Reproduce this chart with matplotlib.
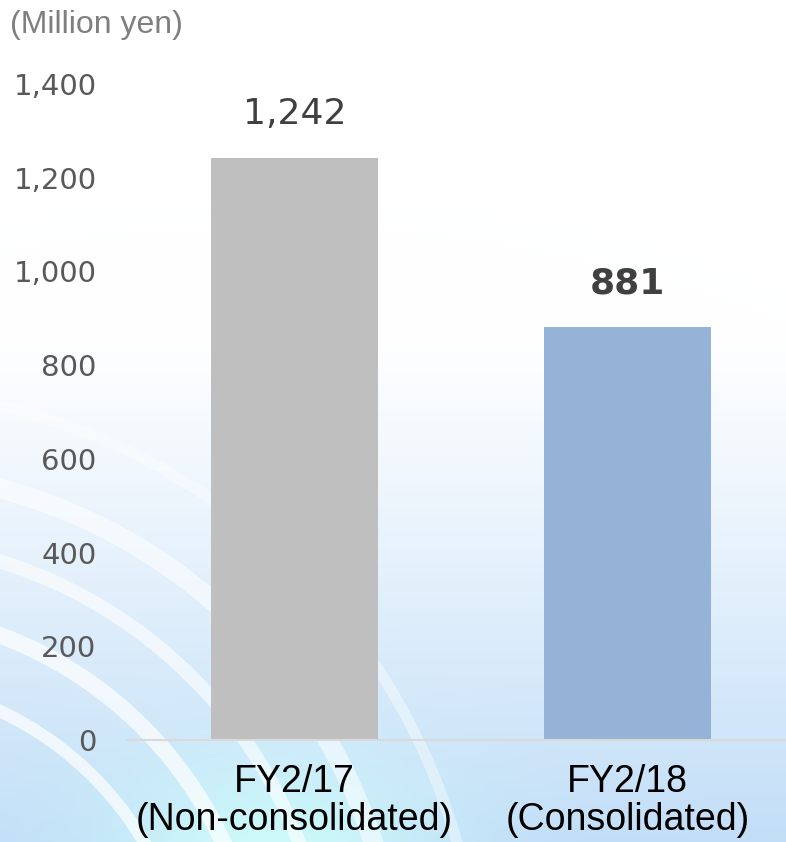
import numpy as np
import matplotlib
matplotlib.use('Agg')
import matplotlib.pyplot as plt
from matplotlib.ticker import FuncFormatter

categories = ['FY2/17\n(Non-consolidated)', 'FY2/18\n(Consolidated)']
values = [1242, 881]
value_labels = ['1,242', '881']
label_bold = [False, True]
bar_colors = ['#bfbfbf', '#95b3d7']
yticks = [0, 200, 400, 600, 800, 1000, 1200, 1400]
unit_label = '(Million yen)'

W, H = 786, 842
fig = plt.figure(figsize=(W/100, H/100), dpi=100)

# background: white to light blue gradient with a cyan glow and a few white arcs
bg = fig.add_axes([0, 0, 1, 1], zorder=0)
yy, xx = np.mgrid[0:H, 0:W]
t = np.clip((yy - 330) / (H - 330), 0, 1) ** 1.1
white = np.array([1.0, 1.0, 1.0])
blue = np.array([0.76, 0.87, 0.97])
img = white[None, None, :] * (1 - t[..., None]) + blue[None, None, :] * t[..., None]
glow = np.exp(-(((xx - 270) / 170.0) ** 2 + ((yy - 860) / 110.0) ** 2))
cyan = np.array([0.80, 0.98, 0.98])
img = img * (1 - glow[..., None]) + cyan[None, None, :] * glow[..., None]
bg.imshow(img, extent=(0, W, H, 0), aspect='auto')
th = np.linspace(0, 2*np.pi, 400)
for r, lw, a in [(330, 9, 0.7), (400, 12, 0.7), (470, 10, 0.6), (540, 14, 0.55), (620, 8, 0.4)]:
	bg.plot(-140 + r*np.cos(th), 1010 + r*np.sin(th), color='white', lw=lw, alpha=a)
bg.set_xlim(0, W)
bg.set_ylim(H, 0)
bg.axis('off')

ax = fig.add_axes([127/W, 1 - 740/H, 1 - 127/W, (740 - 84)/H], zorder=1)
ax.patch.set_alpha(0)
x = np.arange(len(values))
ax.bar(x, values, width=0.50, color=bar_colors, zorder=2)
for i in range(len(values)):
	ax.text(x[i], values[i] + 93, value_labels[i], ha='center', va='center',
		fontsize=26, color='#404040', fontweight='bold' if label_bold[i] else 'normal',
		family='DejaVu Sans')

ax.set_xlim(-0.503, 1.476)
ax.set_ylim(0, 1400)
ax.set_yticks(yticks)
ax.yaxis.set_major_formatter(FuncFormatter(lambda v, p: '{:,.0f}'.format(v)))
ax.tick_params(axis='y', length=0, pad=22, labelsize=21, labelcolor='#595959')
ax.set_xticks(x)
ax.set_xticklabels(categories, family='Liberation Sans', fontsize=27, color='black', linespacing=1.08)
ax.tick_params(axis='x', length=0, pad=17)
for s in ['top', 'right', 'left']:
	ax.spines[s].set_visible(False)
ax.spines['bottom'].set_color('#d9d9d9')
ax.spines['bottom'].set_linewidth(1.5)

fig.text(10/W, 1 - 25/H, unit_label, ha='left', va='center', fontsize=23,
	family='Liberation Sans', color='#7f7f7f')

plt.savefig('out.png', dpi=100)
